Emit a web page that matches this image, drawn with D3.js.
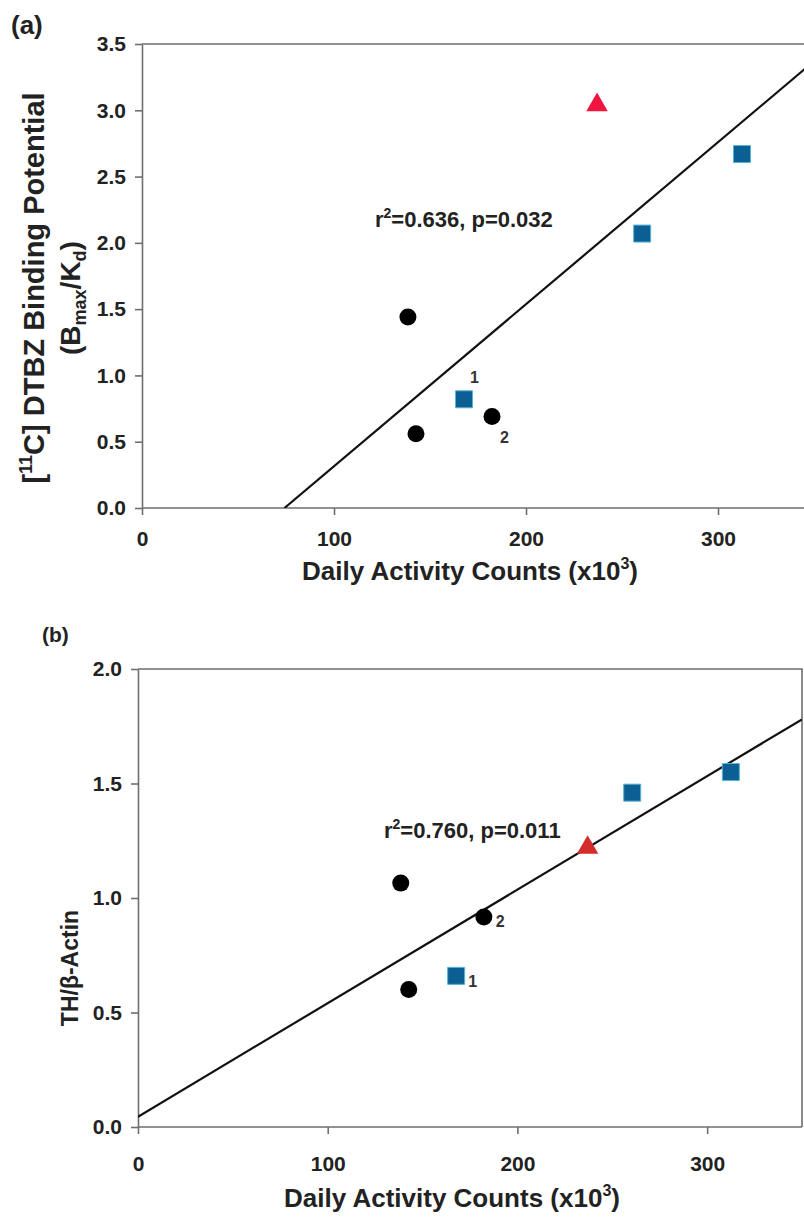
<!DOCTYPE html>
<html lang="en">
<head>
<meta charset="utf-8">
<title>Daily activity vs DTBZ binding and TH/actin</title>
<script src="https://cdn.jsdelivr.net/npm/d3@7"></script>
<style>
  body { margin: 0; background: #fff; }
  svg text { font-family: "Liberation Sans", Arial, sans-serif; font-weight: bold; fill: #222; }
  .axis path, .axis line { stroke: #6e6e6e; stroke-width: 1.6; }
  .axis text { font-size: 21px; }
</style>
</head>
<body>
<script>
// x = daily activity counts (x10^3)
const circleActivity = [138.5, 142.7, 182.3];
const squareActivity = [167.7, 260.5, 312.5];
const triangleActivity = [237];

// panel (a): [11C] DTBZ binding potential
const circleDTBZ = [1.44, 0.56, 0.69];
const squareDTBZ = [0.82, 2.07, 2.67];
const triangleDTBZ = [3.04];

// panel (b): TH / beta-actin
const circleTH = [1.065, 0.60, 0.917];
const squareTH = [0.66, 1.46, 1.55];
const triangleTH = [1.22];

// regression line end points
const fitA_x = [74.2, 350];
const fitA_y = [0, 3.37];
const fitB_x = [0, 350];
const fitB_y = [0.045, 1.78];

const xTicks = [0, 100, 200, 300];
const yTicksA = [0, 0.5, 1, 1.5, 2, 2.5, 3, 3.5];
const yTicksB = [0, 0.5, 1, 1.5, 2];

var w = 804, h = 1218;
var svg = d3.select("body").append("svg").attr("width", w).attr("height", h);

function panel(opt) {
  var x = d3.scaleLinear().domain([0, 350]).range(opt.xr);
  var y = d3.scaleLinear().domain(opt.yd).range(opt.yr);
  var g = svg.append("g");

  // frame (top + right)
  g.append("path")
    .attr("d", `M${opt.xr[0]},${opt.yr[1]}H${opt.xr[1]}V${opt.yr[0]}`)
    .attr("fill", "none").attr("stroke", "#6e6e6e").attr("stroke-width", 1.6);

  g.append("g").attr("class", "axis")
    .attr("transform", `translate(0,${opt.yr[0]})`)
    .call(d3.axisBottom(x).tickValues(xTicks).tickFormat(d3.format("d")).tickSize(7).tickSizeOuter(0).tickPadding(opt.xpad))
    .call(a => a.select(".domain").attr("d", `M${opt.xr[0]},0H${opt.xr[1]}`));

  g.append("g").attr("class", "axis")
    .attr("transform", `translate(${opt.xr[0]},0)`)
    .call(d3.axisLeft(y).tickValues(opt.yt).tickFormat(d3.format(".1f")).tickSize(7).tickSizeOuter(0).tickPadding(9));

  var clipId = "clip" + opt.name;
  svg.append("clipPath").attr("id", clipId).append("rect")
    .attr("x", opt.xr[0]).attr("y", opt.yr[1])
    .attr("width", opt.xr[1] - opt.xr[0]).attr("height", opt.yr[0] - opt.yr[1]);

  g.append("line").attr("clip-path", `url(#${clipId})`)
    .attr("x1", x(opt.fx[0])).attr("y1", y(opt.fy[0]))
    .attr("x2", x(opt.fx[1])).attr("y2", y(opt.fy[1]))
    .attr("stroke", "#111").attr("stroke-width", 2.2);

  function marks(xs, ys, type, size, fill, stroke) {
    g.append("g").selectAll("path").data(xs).join("path")
      .attr("transform", (d, i) => `translate(${x(d)},${y(ys[i])})`)
      .attr("d", d3.symbol().type(type).size(size))
      .attr("fill", fill).attr("stroke", stroke || "none").attr("stroke-width", 1);
  }
  marks(circleActivity, opt.c, d3.symbolCircle, 227, "#000");
  marks(squareActivity, opt.s, d3.symbolSquare, 289, "#0b5f92", "#58b4d4");
  marks(triangleActivity, opt.t, d3.symbolTriangle, 200, opt.tcol);

  // subject numbers next to square 1 and circle 3
  opt.nums.forEach(n => {
    g.append("text").attr("x", x(n.x) + n.dx).attr("y", y(n.y) + n.dy)
      .attr("font-size", 16).style("fill", "#333").text(n.t);
  });

  g.append("text").attr("x", opt.xtx).attr("y", opt.xty)
    .attr("text-anchor", "middle").attr("font-size", 26)
    .text("Daily Activity Counts (x10")
    .append("tspan").attr("font-size", 16).attr("dy", -11).text("3")
    .clone(true).attr("font-size", 26).attr("dy", 11).text(")");

  return g;
}

var gA = panel({
  name: "A", xr: [142, 814], yd: [0, 3.5], yr: [508, 44], yt: yTicksA,
  c: circleDTBZ, s: squareDTBZ, t: triangleDTBZ, tcol: "#f01440",
  fx: fitA_x, fy: fitA_y, xpad: 16, xtx: 470, xty: 580,
  nums: [{x: squareActivity[0], y: squareDTBZ[0], dx: 6, dy: -16, t: "1"},
         {x: circleActivity[2], y: circleDTBZ[2], dx: 8, dy: 26, t: "2"}]
});
var gB = panel({
  name: "B", xr: [138, 802], yd: [0, 2], yr: [1127, 669], yt: yTicksB,
  c: circleTH, s: squareTH, t: triangleTH, tcol: "#d42c2c",
  fx: fitB_x, fy: fitB_y, xpad: 22, xtx: 452, xty: 1207,
  nums: [{x: squareActivity[0], y: squareTH[0], dx: 12, dy: 11, t: "1"},
         {x: circleActivity[2], y: circleTH[2], dx: 12, dy: 10, t: "2"}]
});

// r^2 annotations with superscript
function r2text(g, x, y, r2, p) {
  var t = g.append("text").attr("x", x).attr("y", y).attr("font-size", 22);
  t.append("tspan").text("r");
  t.append("tspan").attr("font-size", 14).attr("dy", -9).text("2");
  t.append("tspan").attr("dy", 9).text(`=${r2}, p=${p}`);
}
r2text(gA, 375, 227, "0.636", "0.032");
r2text(gB, 384, 838, "0.760", "0.011");

// panel letters
svg.append("text").attr("x", 11).attr("y", 34).attr("font-size", 26).text("(a)");
svg.append("text").attr("x", 42).attr("y", 642).attr("font-size", 21).text("(b)");

// y titles
var ya = svg.append("text").attr("transform", "translate(44,288) rotate(-90)")
  .attr("text-anchor", "middle").attr("font-size", 29);
ya.append("tspan").text("[");
ya.append("tspan").attr("font-size", 18).attr("dy", -12).text("11");
ya.append("tspan").attr("dy", 12).text("C] DTBZ Binding Potential");

var yb = svg.append("text").attr("transform", "translate(80,298) rotate(-90)")
  .attr("text-anchor", "middle").attr("font-size", 28);
yb.append("tspan").text("(B");
yb.append("tspan").attr("font-size", 18).attr("dy", 6).text("max");
yb.append("tspan").attr("dy", -6).text("/K");
yb.append("tspan").attr("font-size", 18).attr("dy", 6).text("d");
yb.append("tspan").attr("dy", -6).text(")");

svg.append("text").attr("transform", "translate(78,968) rotate(-90)")
  .attr("text-anchor", "middle").attr("font-size", 23).text("TH/β-Actin");
</script>
</body>
</html>
